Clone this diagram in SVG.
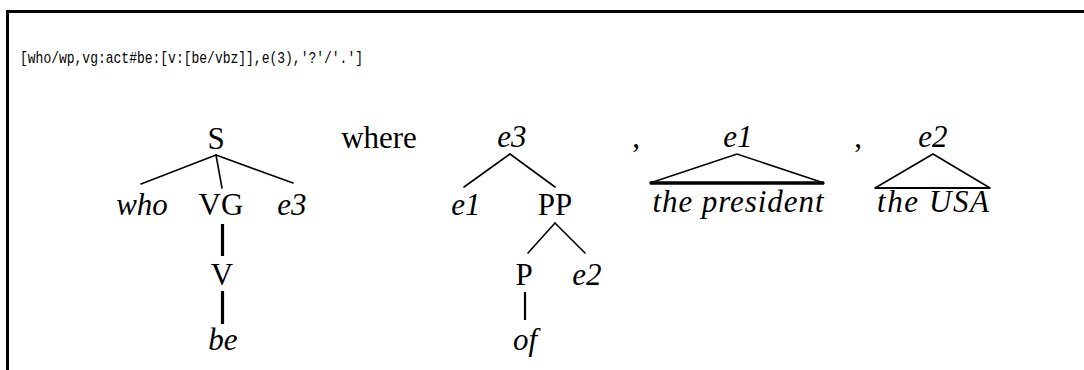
<svg xmlns="http://www.w3.org/2000/svg" width="1084" height="370" viewBox="0 0 1084 370">
<style>
.t{font-family:"Liberation Serif",serif;font-size:31px;fill:#000;text-anchor:middle}
.i{font-style:italic}
.m{font-family:"Liberation Mono",monospace;font-size:17px;fill:#000}
.ln{stroke:#000;stroke-width:1.6;fill:none;stroke-linecap:round}
.tk{stroke:#000;stroke-width:3.2;fill:none}
.md{stroke:#000;stroke-width:2.2;fill:none}
</style>
<rect width="1084" height="370" fill="#fff"/>
<g id="frame">
<path d="M7.5 370 V11.5 H1084" fill="none" stroke="#000" stroke-width="3"/>
</g>
<g id="code">
<text class="m" x="20" y="63" textLength="343" lengthAdjust="spacingAndGlyphs">[who/wp,vg:act#be:[v:[be/vbz]],e(3),'?'/'.']</text>
</g>
<g id="connectors">
<line class="ln" x1="216" y1="155" x2="141" y2="184"/>
<line class="ln" x1="216" y1="155" x2="222" y2="188"/>
<line class="ln" x1="216" y1="155" x2="293" y2="183"/>
<line class="tk" x1="222.5" y1="224" x2="222.5" y2="256"/>
<line class="tk" x1="222.5" y1="291" x2="222.5" y2="324"/>
<line class="ln" x1="510" y1="154" x2="464" y2="187"/>
<line class="ln" x1="510" y1="154" x2="555" y2="187"/>
<line class="ln" x1="555" y1="223" x2="528" y2="253"/>
<line class="ln" x1="555" y1="223" x2="585" y2="253"/>
<line class="md" x1="525" y1="292" x2="525" y2="320"/>
<path class="ln" d="M650 183 L737 154 L824 183"/>
<line x1="650" y1="183" x2="824" y2="183" stroke="#000" stroke-width="3.5"/>
<path class="ln" d="M875 188 L933 154 L990 188"/>
<line x1="875" y1="188" x2="990" y2="188" stroke="#000" stroke-width="2"/>
</g>
<g id="node-S"><text class="t" x="216" y="149">S</text></g>
<g id="node-who"><text class="t i" x="142" y="215">who</text></g>
<g id="node-VG"><text class="t" x="221" y="215">VG</text></g>
<g id="node-e3a"><text class="t i" x="292" y="215">e3</text></g>
<g id="node-V"><text class="t" x="222" y="285">V</text></g>
<g id="node-be"><text class="t i" x="223" y="350">be</text></g>
<g id="label-where"><text class="t" x="379" y="148">where</text></g>
<g id="node-e3b"><text class="t i" x="512" y="147">e3</text></g>
<g id="node-e1a"><text class="t i" x="466" y="215">e1</text></g>
<g id="node-PP"><text class="t" x="555" y="215">PP</text></g>
<g id="node-P"><text class="t" x="524" y="285">P</text></g>
<g id="node-e2a"><text class="t i" x="587" y="285">e2</text></g>
<g id="node-of"><text class="t i" x="525" y="350">of</text></g>
<g id="comma1"><text class="t" x="636" y="147">,</text></g>
<g id="node-e1b"><text class="t i" x="738" y="147">e1</text></g>
<g id="node-president"><text class="t i" x="738" y="212" textLength="171" lengthAdjust="spacing">the president</text></g>
<g id="comma2"><text class="t" x="858" y="147">,</text></g>
<g id="node-e2b"><text class="t i" x="933" y="147">e2</text></g>
<g id="node-usa"><text class="t i" x="933" y="212" textLength="112" lengthAdjust="spacing">the USA</text></g>
</svg>
